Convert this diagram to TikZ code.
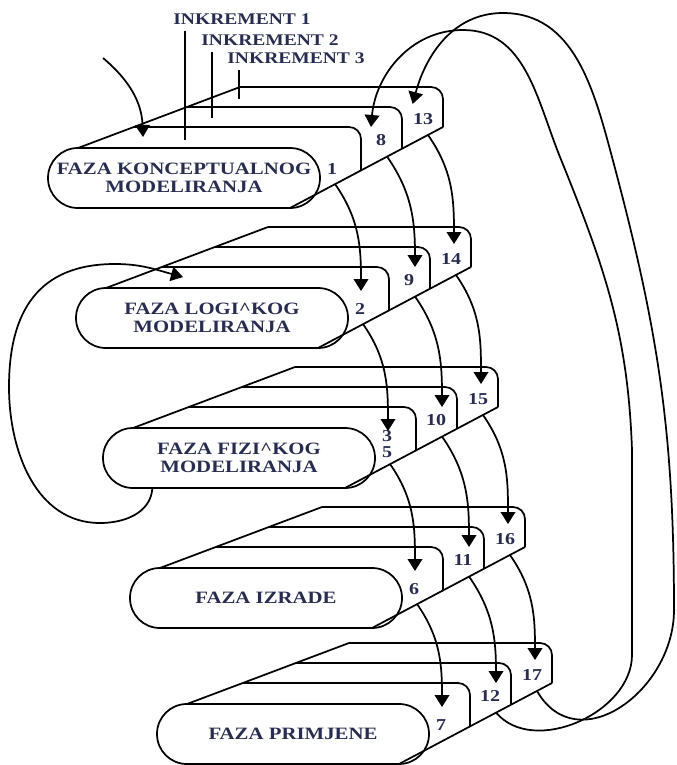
\documentclass[tikz,border=0pt]{standalone}
\usepackage{fontspec}
\setmainfont{Liberation Serif}[FakeStretch=1.2]
\usetikzlibrary{arrows.meta}
\definecolor{ink}{RGB}{40,45,80}

\begin{document}
\begin{tikzpicture}[x=0.75pt, y=0.75pt, line width=1.3pt, line join=round,
	faza/.style={draw, rectangle, rounded corners=22.4pt, minimum width=204pt, minimum height=45pt, inner sep=0pt, align=center, text=ink, font=\fontsize{13}{13.5}\selectfont\bfseries},
	broj/.style={inner sep=1pt, align=center, text=ink, font=\fontsize{12.5}{12}\selectfont\bfseries},
	inkrement/.style={inner sep=4pt, text=ink, font=\fontsize{12.2}{12}\selectfont\bfseries},
	sloj/.style={rounded corners=9pt},
	tok/.style={-{Triangle[width=11pt,length=9pt]}}]

	\useasboundingbox (0,0) rectangle (676,-765);

	% faze, svaka s tri inkrementa iza sebe
	\foreach \k/\cx/\cy/\a/\ya/\txt in {
		1/184/178/1/9/{FAZA KONCEPTUALNOG\\MODELIRANJA},
		2/212/318/2/9/{FAZA LOGI\textasciicircum KOG\\MODELIRANJA},
		3/239/458/{3\\5}/14/{FAZA FIZI\textasciicircum KOG\\MODELIRANJA},
		4/266/598/6/9/{FAZA IZRADE},
		5/293/734/7/9/{FAZA PRIMJENE}}{
		\pgfmathtruncatemacro\nb{\k+7}
		\pgfmathtruncatemacro\nc{\k+12}
		\begin{scope}[shift={(\cx,-\cy)}]
			\node[faza] (k\k) at (0,0) {\txt};
			\draw (-106,30) -- (56,91);
			\draw[sloj] (-50,51) -- (177,51) -- (177,7.6);
			\draw[sloj] (3,71) -- (218,71) -- (218,29.3);
			\draw[sloj] (56,91) -- (259,91) -- (259,51);
			\draw (106,-30) -- (259,51);
			\node[broj] (b\k-0) at (148,\ya) {\a};
			\node[broj] (b\k-1) at (197,38) {\nb};
			\node[broj] (b\k-2) at (239,59) {\nc};
			\coordinate (o\k-0) at (151,-6);
			\coordinate (o\k-1) at (203,21.5);
			\coordinate (o\k-2) at (244,43);
			\coordinate (u\k-0) at (149,27);
			\coordinate (u\k-1) at (203,51);
			\coordinate (u\k-2) at (242,74);
		\end{scope}
	}

	% inkrementi
	\node[inkrement] (inc1) at (242,-19) {INKREMENT 1};
	\node[inkrement] (inc2) at (270,-40) {INKREMENT 2};
	\node[inkrement] (inc3) at (296,-58) {INKREMENT 3};
	\coordinate (d1) at (185,-140);
	\coordinate (d2) at (212,-118);
	\coordinate (d3) at (239,-99);
	\draw (inc1.south -| d1) -- (d1);
	\draw (inc2.south -| d2) -- (d2);
	\draw (inc3.south -| d3) -- (d3);

	% ulaz
	\coordinate (ulaz) at (103,-58);
	\coordinate (pocetak) at (143,-137);
	\draw[tok] (ulaz) to[out=-40,in=92] (pocetak);

	% tokovi izmedju faza
	\foreach \k/\m in {1/2,2/3,3/4,4/5}
		\foreach \j in {0,1,2}
			\draw[tok] (o\k-\j) to[out=-55,in=90] (u\m-\j);

	% povratak na logicko modeliranje
	\coordinate (cetiri) at (183,-277);
	\draw[tok] ([xshift=-65pt]k3.south) to[out=-95,in=0] (100,-523)
		to[out=180,in=-90] (9,-387) to[out=90,in=180,looseness=1.2] (115,-264)
		to[out=0,in=165] (cetiri);

	% povratak na pocetak
	\draw[tok] (o5-1) to[out=-50,in=-90] (632,-655) -- (632,-450)
		to[out=92,in=-68] (560,-157) to[out=112,in=0] (463,-30)
		to[out=180,in=85] ([xshift=-12pt]u1-1);
	\draw[tok] (o5-2) to[out=-60,in=-90,looseness=1.3] (674,-610)
		to[out=90,in=-75] (612,-157) to[out=105,in=0] (503,-13)
		to[out=180,in=75] ([xshift=-10pt]u1-2);
\end{tikzpicture}
\end{document}
